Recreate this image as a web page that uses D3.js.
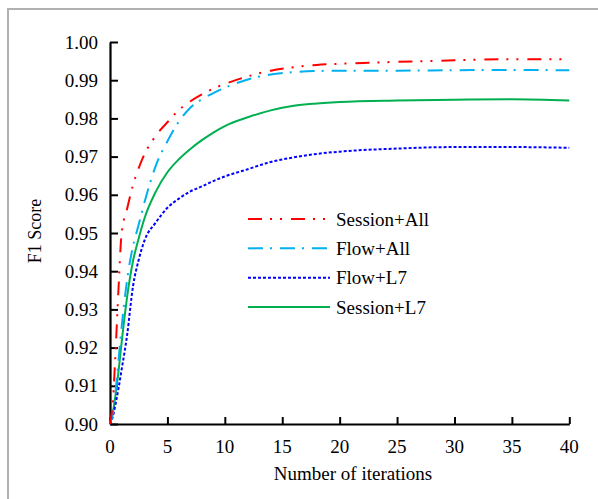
<!DOCTYPE html>
<html lang="en">
<head>
  <meta charset="UTF-8">
  <title>F1 Score vs iterations</title>
  <style>
    html, body {
      margin: 0;
      padding: 0;
      background: #fff;
      overflow: hidden;
    }
    svg {
      display: block;
      font-family: 'Liberation Serif', 'Times New Roman', serif;
    }
  </style>
</head>
<body>
  <svg id="chart" width="598" height="499"></svg>

  <script src="https://d3js.org/d3.v7.min.js"></script>
  <script>
    // Values
    const iterations = [0, 0.25, 0.5, 0.75, 1, 1.5, 2, 2.5, 3, 4, 5, 6, 7, 8, 9, 10, 12, 14, 16, 18, 20, 25, 30, 35, 40];

    const sessionAll = [0.900, 0.906, 0.920, 0.936, 0.9495, 0.9565, 0.9625, 0.967, 0.9706, 0.9755, 0.979, 0.9822, 0.9845, 0.9863, 0.9878, 0.989, 0.991, 0.9925, 0.9934, 0.9940, 0.9943, 0.9948, 0.9952, 0.9955, 0.9955];
    const flowAll    = [0.900, 0.903, 0.909, 0.917, 0.925, 0.938, 0.9465, 0.9522, 0.958, 0.9677, 0.974, 0.9792, 0.9828, 0.9850, 0.9866, 0.9880, 0.9902, 0.9915, 0.9921, 0.9924, 0.9925, 0.9925, 0.9926, 0.9927, 0.9926];
    const flowL7     = [0.900, 0.902, 0.9055, 0.9095, 0.914, 0.9235, 0.936, 0.943, 0.948, 0.9528, 0.9566, 0.959, 0.9609, 0.9622, 0.9636, 0.9648, 0.9667, 0.9686, 0.9698, 0.9707, 0.9713, 0.9721, 0.9725, 0.9725, 0.9723];
    const sessionL7  = [0.900, 0.903, 0.908, 0.914, 0.921, 0.9335, 0.9426, 0.9486, 0.9538, 0.9609, 0.9659, 0.9693, 0.9720, 0.9743, 0.9763, 0.9780, 0.9803, 0.9821, 0.9833, 0.9839, 0.9843, 0.9847, 0.9849, 0.9850, 0.9847];

    const seriesNames = ["Session+All", "Flow+All", "Flow+L7", "Session+L7"];
    const seriesValues = [sessionAll, flowAll, flowL7, sessionL7];
    const seriesColors = ["#ff0000", "#00b0f0", "#0000ff", "#00b050"];
    const seriesDashes = ["14,8,2,8,2,9", "15,7,2,8", "3,2", null];

    const xTicks = [0, 5, 10, 15, 20, 25, 30, 35, 40];
    const yTicks = [0.90, 0.91, 0.92, 0.93, 0.94, 0.95, 0.96, 0.97, 0.98, 0.99, 1.00];

    const serif = "'Liberation Serif', 'Times New Roman', serif";
    const svg = d3.select("#chart");

    const x = d3.scaleLinear().domain([0, 40]).range([110, 569.3]);
    const y = d3.scaleLinear().domain([0.90, 1.00]).range([424, 42]);

    // axes, ticks point inwards; labels are drawn separately below
    const xAxis = svg.append("g")
      .attr("transform", "translate(0,424)")
      .call(d3.axisBottom(x).tickValues(xTicks).tickFormat("").tickSizeInner(-7).tickSizeOuter(0));
    const yAxis = svg.append("g")
      .attr("transform", "translate(110,0)")
      .call(d3.axisLeft(y).tickValues(yTicks).tickFormat("").tickSizeInner(-8).tickSizeOuter(0));

    [xAxis, yAxis].forEach(a => {
      a.select(".domain").attr("stroke", "#000").attr("stroke-width", 2.2);
      a.selectAll(".tick line").attr("stroke", "#000").attr("stroke-width", 2);
      a.selectAll(".tick text").remove();
    });

    svg.append("g").selectAll("text")
      .data(xTicks)
      .enter()
      .append("text")
      .attr("x", d => x(d))
      .attr("y", 452.5)
      .attr("text-anchor", "middle")
      .style("font-family", serif)
      .style("font-size", "19px")
      .text(d => d);

    svg.append("g").selectAll("text")
      .data(yTicks)
      .enter()
      .append("text")
      .attr("x", 98)
      .attr("y", d => y(d))
      .attr("dy", "0.35em")
      .attr("text-anchor", "end")
      .style("font-family", serif)
      .style("font-size", "19px")
      .text(d => d3.format(".2f")(d));

    // axis titles
    svg.append("text")
      .attr("x", 353).attr("y", 480)
      .attr("text-anchor", "middle")
      .style("font-family", serif)
      .style("font-size", "19px")
      .text("Number of iterations");
    svg.append("text")
      .attr("transform", "translate(35,231) rotate(-90)")
      .attr("text-anchor", "middle")
      .attr("dy", "0.35em")
      .style("font-family", serif)
      .style("font-size", "18px")
      .text("F1 Score");

    // lines
    const line = d3.line()
      .x((d, i) => x(iterations[i]))
      .y(d => y(d))
      .curve(d3.curveMonotoneX);

    const drawOrder = [3, 2, 1, 0];
    drawOrder.forEach(k => {
      svg.append("path")
        .datum(seriesValues[k])
        .attr("d", line)
        .attr("fill", "none")
        .attr("stroke", seriesColors[k])
        .attr("stroke-width", 2)
        .attr("stroke-dasharray", seriesDashes[k]);
    });

    // legend
    const legendY = d3.scalePoint().domain(seriesNames).range([219, 307]);
    const legend = svg.append("g");
    seriesNames.forEach((name, k) => {
      legend.append("line")
        .attr("x1", 248).attr("x2", 330)
        .attr("y1", legendY(name)).attr("y2", legendY(name))
        .attr("stroke", seriesColors[k])
        .attr("stroke-width", 2)
        .attr("stroke-dasharray", seriesDashes[k]);
      legend.append("text")
        .attr("x", 336).attr("y", legendY(name))
        .attr("dy", "0.35em")
        .style("font-family", serif)
        .style("font-size", "19px")
        .text(name);
    });

    // outer frame, runs past the right and bottom edge of the picture
    svg.append("rect")
      .attr("x", 8).attr("y", 9)
      .attr("width", 640).attr("height", 540)
      .attr("fill", "none")
      .attr("stroke", "#b0b0b0")
      .attr("stroke-width", 2);
  </script>
</body>
</html>
